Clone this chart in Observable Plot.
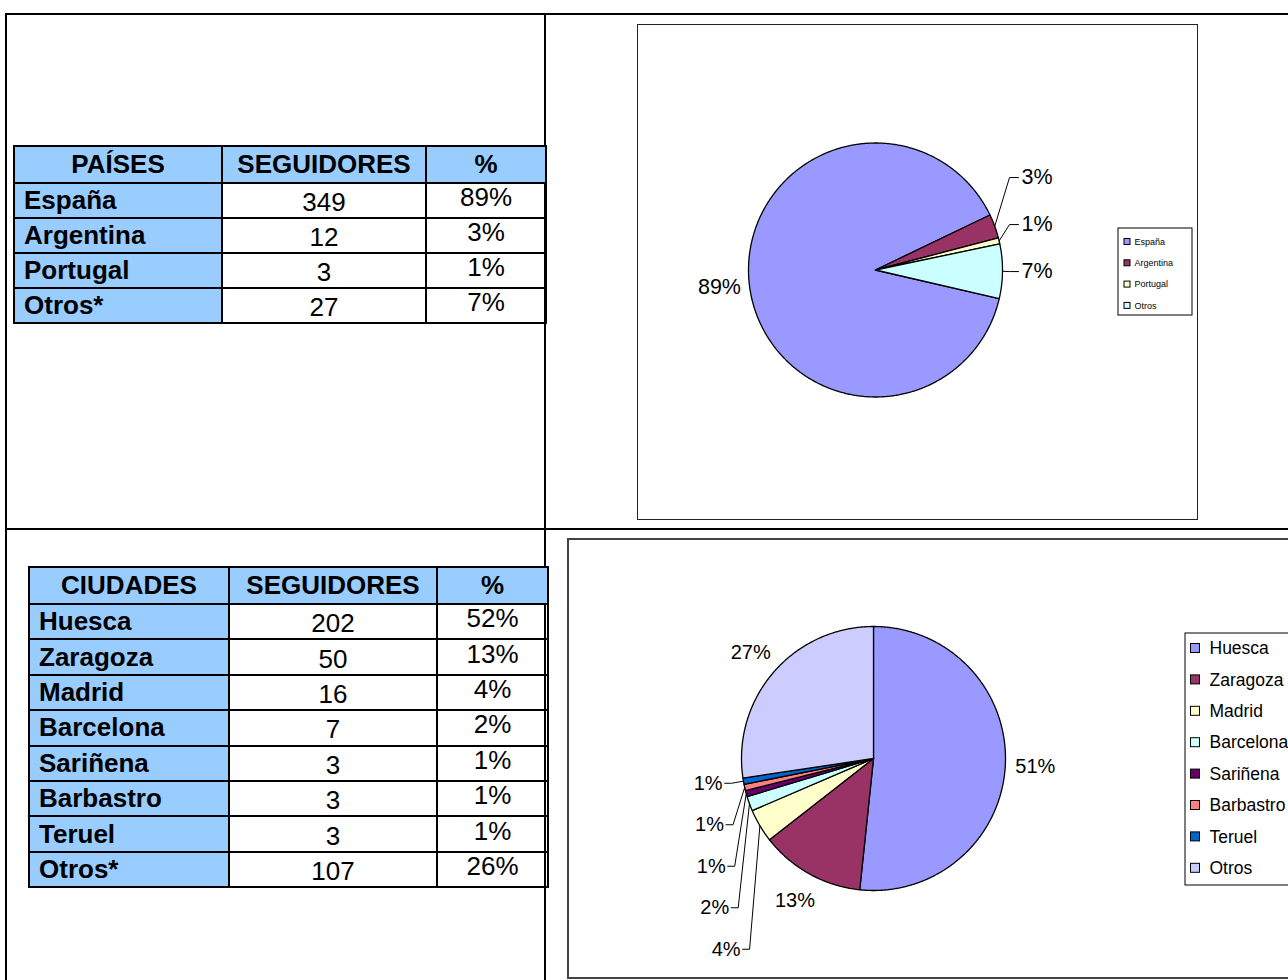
<!DOCTYPE html>
<html>
<head>
<meta charset="utf-8">
<script src="https://cdn.jsdelivr.net/npm/d3@7"></script>
<script src="https://cdn.jsdelivr.net/npm/@observablehq/plot@0.6"></script>
<style>
html,body{margin:0;padding:0;background:#fff;overflow:hidden;}
#page{position:relative;width:1288px;height:980px;overflow:hidden;background:#fff;font-family:Arial,"Liberation Sans",sans-serif;}
.gl{position:absolute;background:#000;}
table.t{position:absolute;border-collapse:collapse;table-layout:fixed;font-family:Arial,"Liberation Sans",sans-serif;font-size:26px;color:#000;}
table.t td,table.t th{border:2px solid #000;padding:0;white-space:nowrap;overflow:hidden;}
table.t th{background:#99CCFF;font-weight:bold;text-align:center;}
table.t td.name{background:#99CCFF;font-weight:bold;text-align:left;padding-left:9px;}
table.t td.num{text-align:center;}
table.t td.pct{text-align:center;}
table.t td.num span{position:relative;top:2px;}
table.t td.pct span{position:relative;top:-3px;}
.box{position:absolute;background:#fff;}
.box .frame{position:absolute;left:0;top:0;right:0;bottom:0;pointer-events:none;box-sizing:border-box;}
.box svg{display:block;}
</style>
</head>
<body>
<div id="page"></div>
<script>
// ---------- DATA ----------
const paisesHeader = ["PAÍSES", "SEGUIDORES", "%"];
const paises = ["España", "Argentina", "Portugal", "Otros*"];
const paisesSeguidores = [349, 12, 3, 27];
const paisesPct = ["89%", "3%", "1%", "7%"];
const paisesLegend = ["España", "Argentina", "Portugal", "Otros"];
const paisesPieLabels = ["89%", "3%", "1%", "7%"];
const paisesColors = ["#9999FF", "#993366", "#FFFFCC", "#CCFFFF"];

const ciudadesHeader = ["CIUDADES", "SEGUIDORES", "%"];
const ciudades = ["Huesca", "Zaragoza", "Madrid", "Barcelona", "Sariñena", "Barbastro", "Teruel", "Otros*"];
const ciudadesSeguidores = [202, 50, 16, 7, 3, 3, 3, 107];
const ciudadesPct = ["52%", "13%", "4%", "2%", "1%", "1%", "1%", "26%"];
const ciudadesLegend = ["Huesca", "Zaragoza", "Madrid", "Barcelona", "Sariñena", "Barbastro", "Teruel", "Otros"];
const ciudadesPieLabels = ["51%", "13%", "4%", "2%", "1%", "1%", "1%", "27%"];
const ciudadesColors = ["#9999FF", "#993366", "#FFFFCC", "#CCFFFF", "#660066", "#FF8080", "#0066CC", "#CCCCFF"];

// ---------- LAYOUT ----------
const page = document.getElementById("page");
function line(l, t, w, h) {
  const d = document.createElement("div");
  d.className = "gl";
  Object.assign(d.style, {left: l + "px", top: t + "px", width: w + "px", height: h + "px"});
  page.appendChild(d);
}
line(5, 13, 1283, 2);
line(5, 13, 2, 967);
line(544, 13, 2, 967);
line(5, 528, 1283, 2);

function makeTable(left, top, colW, headRow, names, counts, pcts, headH, rowH) {
  const t = document.createElement("table");
  t.className = "t";
  t.style.left = left + "px";
  t.style.top = top + "px";
  t.style.width = d3.sum(colW) + "px";
  const cg = document.createElement("colgroup");
  colW.forEach(w => { const c = document.createElement("col"); c.style.width = w + "px"; cg.appendChild(c); });
  t.appendChild(cg);
  const hr = document.createElement("tr");
  hr.style.height = headH + "px";
  headRow.forEach(h => { const th = document.createElement("th"); th.textContent = h; hr.appendChild(th); });
  t.appendChild(hr);
  names.forEach((n, i) => {
    const tr = document.createElement("tr");
    tr.style.height = rowH + "px";
    const a = document.createElement("td"); a.className = "name"; a.textContent = n;
    const b = document.createElement("td"); b.className = "num"; b.innerHTML = "<span>" + counts[i] + "</span>";
    const c = document.createElement("td"); c.className = "pct"; c.innerHTML = "<span>" + pcts[i] + "</span>";
    tr.append(a, b, c);
    t.appendChild(tr);
  });
  page.appendChild(t);
}
makeTable(13, 145, [208, 204, 120], paisesHeader, paises, paisesSeguidores, paisesPct, 37, 35);
makeTable(28, 566, [200, 208, 111], ciudadesHeader, ciudades, ciudadesSeguidores, ciudadesPct, 37, 35.4);

// ---------- PIE CHARTS ----------
const FONT = 'Arial, "Liberation Sans", sans-serif';

function arcPoints(cx, cy, r, a0, a1) {
  const n = Math.max(2, Math.ceil((a1 - a0) / (Math.PI / 360)));
  const pts = [{x: cx, y: cy}];
  for (let i = 0; i <= n; i++) {
    const a = a0 + (a1 - a0) * i / n;
    pts.push({x: cx + r * Math.sin(a), y: cy - r * Math.cos(a)});
  }
  pts.push({x: cx, y: cy});
  return pts;
}

function pieChart(o) {
  const arcs = d3.pie().sort(null).value(d => d)
    .startAngle(o.start).endAngle(o.start + 2 * Math.PI)(o.values);
  const marks = [];
  arcs.forEach((a, i) => {
    marks.push(Plot.line(arcPoints(o.cx, o.cy, o.r, a.startAngle, a.endAngle),
      {x: "x", y: "y", fill: o.colors[i], stroke: "#000", strokeWidth: 1.3, strokeLinejoin: "round"}));
  });
  const labs = arcs.map((a, i) => ({i, text: o.labels[i], mid: (a.startAngle + a.endAngle) / 2}));
  const free = labs.filter(l => !o.leader.includes(l.i));
  const lead = labs.filter(l => o.leader.includes(l.i));
  free.forEach(l => {
    l.x = o.cx + (o.r + o.off) * Math.sin(l.mid);
    l.y = o.cy - (o.r + o.off) * Math.cos(l.mid);
  });
  const leaderLines = [];
  if (o.side === "right") {
    lead.forEach(l => { l.x = o.cx + o.r + 19; l.ny = o.cy - (o.r + o.off) * Math.cos(l.mid); });
    lead.sort((a, b) => b.ny - a.ny);
    let prev = Infinity;
    lead.forEach(l => { l.y = Math.min(l.ny, prev - o.gap); prev = l.y; });
    lead.forEach(l => {
      const ax = o.cx + o.r * Math.sin(l.mid), ay = o.cy - o.r * Math.cos(l.mid);
      leaderLines.push({id: l.i, x: ax, y: ay}, {id: l.i, x: l.x - 12, y: l.y}, {id: l.i, x: l.x - 3, y: l.y});
    });
  } else {
    lead.forEach(l => { l.x = o.cx + (o.r + 12) * Math.sin(l.mid) - 9; l.ny = o.cy - (o.r + 12) * Math.cos(l.mid); });
    lead.sort((a, b) => a.ny - b.ny);
    let prev = -Infinity;
    lead.forEach(l => { l.y = Math.max(l.ny, prev + o.gap); prev = l.y; });
    lead.forEach(l => {
      const ax = o.cx + o.r * Math.sin(l.mid), ay = o.cy - o.r * Math.cos(l.mid);
      leaderLines.push({id: l.i, x: l.x + 2, y: l.y}, {id: l.i, x: l.x + 9, y: l.y}, {id: l.i, x: ax, y: ay});
    });
  }
  marks.push(Plot.line(leaderLines, {x: "x", y: "y", z: "id", stroke: "#000", strokeWidth: 1}));
  marks.push(Plot.text(free, {x: "x", y: "y", text: "text", fontSize: o.fontSize, fill: "#000", textAnchor: "middle"}));
  marks.push(Plot.text(lead, {x: "x", y: "y", text: "text", fontSize: o.fontSize, fill: "#000",
    textAnchor: o.side === "right" ? "start" : "end"}));

  // legend
  const L = o.legend;
  const items = o.legendNames.map((n, i) => ({
    name: n, color: o.colors[i],
    y: L.y0 + i * L.step
  }));
  marks.push(Plot.rect([L], {x1: "x1", x2: "x2", y1: "y1", y2: "y2", fill: "#fff", stroke: "#000", strokeWidth: 1}));
  marks.push(Plot.rect(items, {
    x1: () => L.sx - L.s / 2, x2: () => L.sx + L.s / 2,
    y1: d => d.y - L.s / 2, y2: d => d.y + L.s / 2,
    fill: "color", stroke: "#000", strokeWidth: 1
  }));
  marks.push(Plot.text(items, {x: () => L.tx, y: "y", text: "name", fontSize: L.fontSize, textAnchor: "start", fill: "#000"}));

  const svg = Plot.plot({
    width: o.W, height: o.H, margin: 0,
    x: {domain: [0, o.W], range: [0, o.W], axis: null},
    y: {domain: [0, o.H], range: [0, o.H], axis: null},
    style: {background: "#fff", fontFamily: FONT, overflow: "visible"},
    marks
  });
  const box = document.createElement("div");
  box.className = "box";
  Object.assign(box.style, {left: o.left + "px", top: o.top + "px", width: o.W + "px", height: o.H + "px"});
  box.appendChild(svg);
  const fr = document.createElement("div");
  fr.className = "frame";
  fr.style.border = o.border;
  box.appendChild(fr);
  page.appendChild(box);
}

pieChart({
  left: 637, top: 24, W: 561, H: 496, border: "1px solid #222",
  cx: 238, cy: 245.5, r: 127, start: 103 * Math.PI / 180,
  values: paisesSeguidores, colors: paisesColors, labels: paisesPieLabels,
  leader: [1, 2, 3], side: "right", off: 30, gap: 47, fontSize: 21.5,
  legendNames: paisesLegend,
  legend: {x1: 481, x2: 555, y1: 204, y2: 291, y0: 217.5, step: 21.3, sx: 490, s: 6, tx: 497, fontSize: 9}
});

pieChart({
  left: 567, top: 538, W: 740, H: 441, border: "2px solid #444",
  cx: 306, cy: 220, r: 132, start: 0,
  values: ciudadesSeguidores, colors: ciudadesColors, labels: ciudadesPieLabels,
  leader: [2, 3, 4, 5, 6], side: "left", off: 30, gap: 41.5, fontSize: 20,
  legendNames: ciudadesLegend,
  legend: {x1: 618, x2: 760, y1: 95, y2: 347, y0: 110, step: 31.4, sx: 628, s: 9, tx: 642, fontSize: 17.5}
});
</script>
</body>
</html>
